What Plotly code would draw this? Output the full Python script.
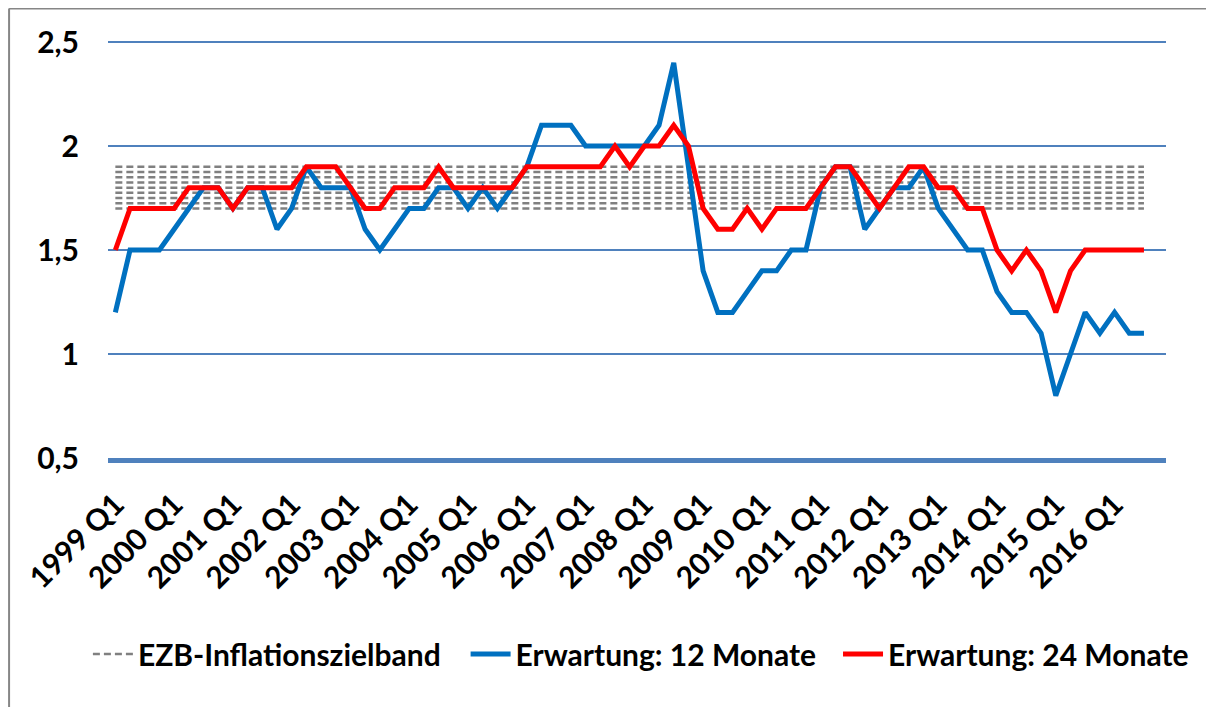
import plotly.graph_objects as go

# quarterly categories 1999 Q1 .. 2016 Q4 (last one has no data)
quarters = [f"{year} Q{q}" for year in range(1999, 2017) for q in range(1, 5)]
tick_labels = quarters[::4]

# EZB target band drawn as a stack of dashed lines between 1.7 and 1.9
band_levels = [1.7, 1.725, 1.75, 1.775, 1.8, 1.825, 1.85, 1.875, 1.9]

exp_12m = [
    1.2, 1.5, 1.5, 1.5, 1.6, 1.7, 1.8, 1.8, 1.7, 1.8, 1.8, 1.6,
    1.7, 1.9, 1.8, 1.8, 1.8, 1.6, 1.5, 1.6, 1.7, 1.7, 1.8, 1.8,
    1.7, 1.8, 1.7, 1.8, 1.9, 2.1, 2.1, 2.1, 2.0, 2.0, 2.0, 2.0,
    2.0, 2.1, 2.4, 1.9, 1.4, 1.2, 1.2, 1.3, 1.4, 1.4, 1.5, 1.5,
    1.8, 1.9, 1.9, 1.6, 1.7, 1.8, 1.8, 1.9, 1.7, 1.6, 1.5, 1.5,
    1.3, 1.2, 1.2, 1.1, 0.8, 1.0, 1.2, 1.1, 1.2, 1.1, 1.1,
]
exp_24m = [
    1.5, 1.7, 1.7, 1.7, 1.7, 1.8, 1.8, 1.8, 1.7, 1.8, 1.8, 1.8,
    1.8, 1.9, 1.9, 1.9, 1.8, 1.7, 1.7, 1.8, 1.8, 1.8, 1.9, 1.8,
    1.8, 1.8, 1.8, 1.8, 1.9, 1.9, 1.9, 1.9, 1.9, 1.9, 2.0, 1.9,
    2.0, 2.0, 2.1, 2.0, 1.7, 1.6, 1.6, 1.7, 1.6, 1.7, 1.7, 1.7,
    1.8, 1.9, 1.9, 1.8, 1.7, 1.8, 1.9, 1.9, 1.8, 1.8, 1.7, 1.7,
    1.5, 1.4, 1.5, 1.4, 1.2, 1.4, 1.5, 1.5, 1.5, 1.5, 1.5,
]

x_data = quarters[:len(exp_12m)]

fig = go.Figure()

for i, level in enumerate(band_levels):
    fig.add_trace(go.Scatter(
        x=[x_data[0], x_data[-1]],
        y=[level, level],
        mode='lines',
        name='EZB-Inflationszielband',
        legend='legend',
        legendgroup='band',
        showlegend=(i == 0),
        line=dict(color='#808080', width=2.5, dash='7px,4px'),
        hoverinfo='skip',
    ))

fig.add_trace(go.Scatter(
    x=x_data, y=exp_12m, mode='lines', name='Erwartung: 12 Monate',
    legend='legend2', line=dict(color='#0070C0', width=5),
))
fig.add_trace(go.Scatter(
    x=x_data, y=exp_24m, mode='lines', name='Erwartung: 24 Monate',
    legend='legend3', line=dict(color='#FF0000', width=5),
))

# outer chart frame (Excel style): left and top edges
frame = dict(color='#868686', width=2)
fig.add_shape(type='line', xref='paper', yref='paper',
              x0=-0.0935, x1=1.2, y0=1.078, y1=1.078, line=frame)
fig.add_shape(type='line', xref='paper', yref='paper',
              x0=-0.0935, x1=-0.0935, y0=-1.0, y1=1.078, line=frame)

fig.update_xaxes(
    type='category', categoryorder='array', categoryarray=quarters,
    range=[-0.5, len(quarters) - 0.5],
    tickmode='array', tickvals=tick_labels, ticktext=tick_labels,
    tickangle=-45, ticklabelstandoff=12,
    showgrid=False, showline=True, linecolor='#4F81BD', linewidth=4.5,
    zeroline=False,
)
fig.update_yaxes(
    range=[0.5, 2.505], tickvals=[0.5, 1, 1.5, 2, 2.5],
    showgrid=True, gridcolor='#4F81BD', gridwidth=1.5,
    zeroline=False, showline=False, ticklabelstandoff=28,
)

legend_style = dict(orientation='h', xanchor='left', y=-0.47, yanchor='middle',
                    font=dict(size=30), itemwidth=40, bgcolor='rgba(0,0,0,0)')

# page body has an 8px margin, so the figure is a bit smaller and offset
fig.update_layout(
    width=1198, height=699,
    margin=dict(l=100, r=36, t=33, b=249),
    plot_bgcolor='white', paper_bgcolor='white',
    separators=',.',
    font=dict(family='Lato', size=30, color='black', weight='bold'),
    showlegend=True,
    legend=dict(x=-0.019, **legend_style),
    legend2=dict(x=0.338, **legend_style),
    legend3=dict(x=0.69, **legend_style),
)

fig.write_html("out.html")
